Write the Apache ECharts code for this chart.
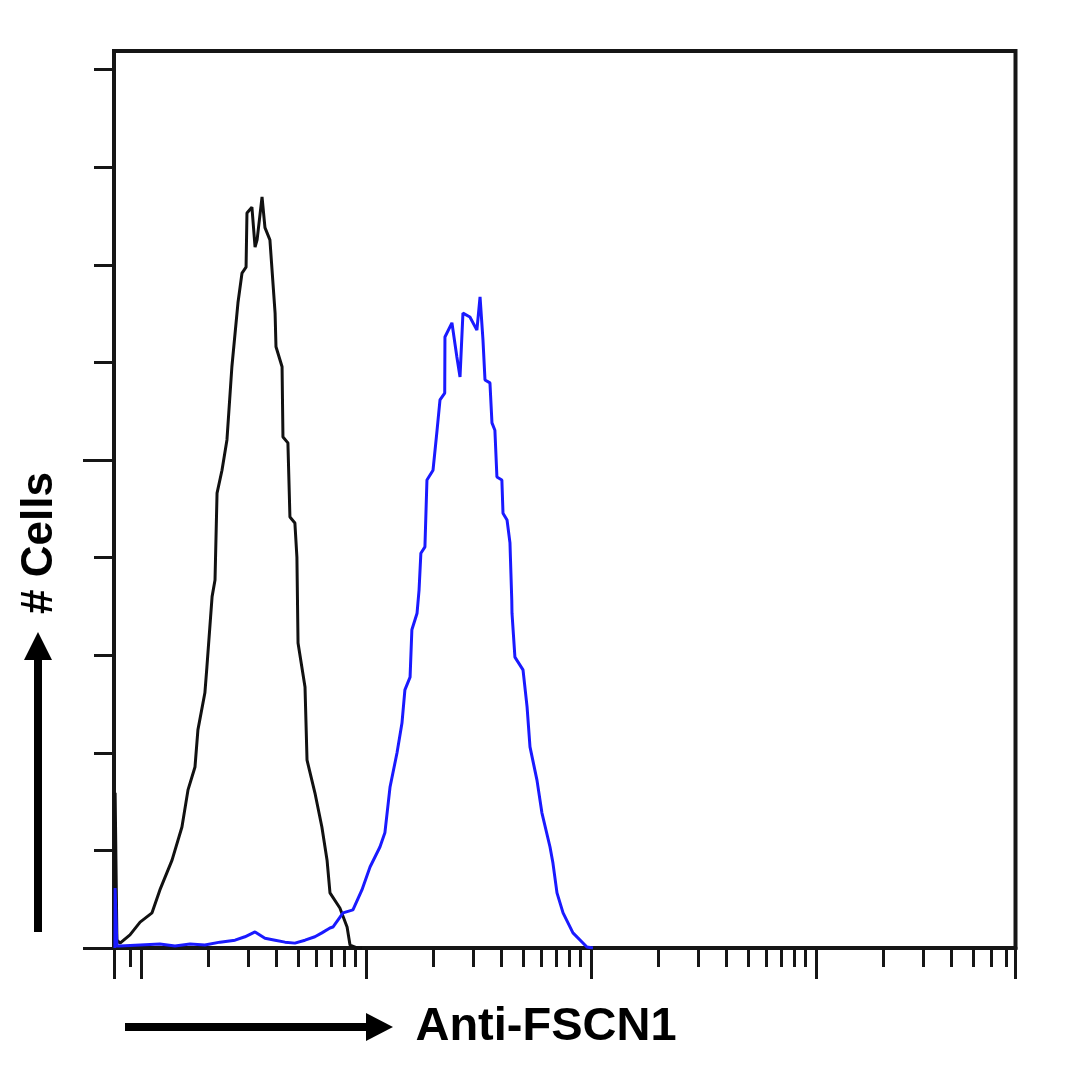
<!DOCTYPE html>
<html><head><meta charset="utf-8">
<script src="https://cdn.jsdelivr.net/npm/echarts@6/dist/echarts.min.js"></script>
<style>html,body{margin:0;padding:0;background:#fff}#c{width:1080px;height:1073px}</style>
</head><body><div id="c"></div>
<script>
// x values: log10 fluorescence intensity (Anti-FSCN1); y values: # cells
const isotypeControl = [[0.884,0],[0.885,31.8],[0.893,1.6],[0.907,1.0],[0.951,2.7],[0.996,5.3],[1.049,7.2],[1.084,11.9],[1.138,18.0],[1.182,24.8],[1.209,32.4],[1.240,37.1],[1.253,44.7],[1.284,52.3],[1.293,57.6],[1.316,72.0],[1.329,75.4],[1.338,93.2],[1.360,97.9],[1.382,104.1],[1.404,119.1],[1.431,132.2],[1.449,138.3],[1.467,139.5],[1.471,150.6],[1.493,151.8],[1.507,143.6],[1.516,145.1],[1.538,153.9],[1.551,147.6],[1.573,145.1],[1.596,130.1],[1.600,123.2],[1.627,119.1],[1.631,104.7],[1.653,103.5],[1.662,88.3],[1.684,87.1],[1.693,80.1],[1.698,62.5],[1.729,53.5],[1.738,38.5],[1.773,31.8],[1.804,24.8],[1.827,18.0],[1.840,11.3],[1.884,8.2],[1.916,4.3],[1.929,0.6],[1.960,0],[1.982,0]];
const antiFSCN1 = [[0.884,0],[0.885,12.3],[0.893,0.4],[0.907,0.4],[0.996,0.6],[1.084,0.8],[1.151,0.4],[1.218,0.8],[1.284,0.6],[1.351,1.2],[1.418,1.6],[1.462,2.3],[1.507,3.3],[1.551,2.0],[1.596,1.6],[1.640,1.2],[1.684,1.0],[1.729,1.6],[1.773,2.3],[1.804,3.1],[1.840,4.1],[1.853,4.3],[1.898,7.2],[1.942,7.8],[1.982,11.9],[2.018,16.6],[2.062,20.7],[2.084,23.6],[2.107,33.0],[2.138,40.0],[2.160,46.1],[2.173,52.9],[2.196,55.5],[2.204,65.2],[2.227,68.6],[2.236,73.4],[2.244,80.9],[2.262,82.2],[2.271,95.9],[2.298,97.9],[2.316,106.1],[2.329,112.3],[2.350,113.7],[2.351,125.2],[2.382,128.1],[2.404,121.1],[2.418,117.0],[2.431,130.1],[2.462,129.3],[2.493,126.6],[2.507,133.4],[2.520,124.6],[2.529,116.4],[2.551,115.8],[2.560,107.6],[2.573,106.1],[2.582,96.5],[2.604,95.9],[2.609,89.1],[2.627,87.7],[2.640,83.0],[2.648,71.3],[2.649,68.6],[2.662,59.6],[2.698,57.0],[2.716,49.4],[2.729,41.2],[2.760,34.4],[2.782,27.7],[2.818,20.7],[2.831,17.4],[2.849,11.3],[2.876,7.2],[2.920,3.1],[2.982,0.2],[3.009,0]];

// axis extents (log10 units for x, counts for y)
const xRange = [0.88, 4.887];
const yRange = [0, 183.8];
// x ticks: decades and in-decade multipliers (log axis)
const xDecades = [1, 2, 3, 4];
const xMultipliers = [2, 3, 4, 5, 6, 7, 8, 9];
const xExtraMinor = [0.9];
// y ticks
const yMajorTicks = [0, 100];
const yMinorTicks = [20, 40, 60, 80, 120, 140, 160, 180];

const xMajor = [xRange[0]].concat(xDecades, [xRange[1]]);
const xMinor = xExtraMinor.map(v => Math.log10(v) + 1);
xDecades.forEach(d => xMultipliers.forEach(m => {
  const v = d + Math.log10(m);
  if (v < xRange[1]) xMinor.push(v);
}));

const INK = '#161616';
const chart = echarts.init(document.getElementById('c'), null, {renderer: 'canvas'});
const baseX = {
  type: 'value', position: 'bottom', min: xRange[0], max: xRange[1],
  axisLabel: {show: false}, splitLine: {show: false}
};
const baseY = {
  type: 'value', position: 'left', min: yRange[0], max: yRange[1],
  axisLabel: {show: false}, splitLine: {show: false}
};
chart.setOption({
  animation: false,
  backgroundColor: '#ffffff',
  grid: {left: 114, right: 64.5, top: 51, bottom: 125, show: true,
         borderColor: INK, borderWidth: 4, backgroundColor: 'transparent'},
  xAxis: [
    Object.assign({}, baseX, {
      axisLine: {show: true, onZero: false, lineStyle: {color: INK, width: 4}},
      axisTick: {show: true, customValues: xMajor, length: 31, lineStyle: {color: INK, width: 3}}
    }),
    Object.assign({}, baseX, {
      axisLine: {show: false},
      axisTick: {show: true, customValues: xMinor, length: 19, lineStyle: {color: INK, width: 3}}
    })
  ],
  yAxis: [
    Object.assign({}, baseY, {
      axisLine: {show: true, onZero: false, lineStyle: {color: INK, width: 4}},
      axisTick: {show: true, customValues: yMajorTicks, length: 31, lineStyle: {color: INK, width: 3}}
    }),
    Object.assign({}, baseY, {
      axisLine: {show: false},
      axisTick: {show: true, customValues: yMinorTicks, length: 20, lineStyle: {color: INK, width: 3}}
    })
  ],
  series: [
    {type: 'line', name: 'Isotype control', xAxisIndex: 0, yAxisIndex: 0, data: isotypeControl,
     showSymbol: false, lineStyle: {color: '#111111', width: 3}, z: 3},
    {type: 'line', name: 'Anti-FSCN1', xAxisIndex: 0, yAxisIndex: 0, data: antiFSCN1,
     showSymbol: false, lineStyle: {color: '#1a1aff', width: 3}, z: 4}
  ],
  graphic: [
    {type: 'line', shape: {x1: 125, y1: 1027, x2: 372, y2: 1027}, style: {stroke: '#000', lineWidth: 8}},
    {type: 'polygon', shape: {points: [[366, 1013], [393, 1027], [366, 1041]]}, style: {fill: '#000'}},
    {type: 'text', x: 546, y: 1027, style: {text: 'Anti-FSCN1', font: 'bold 47px "Liberation Sans", Arial, sans-serif',
      fill: '#000', align: 'center', verticalAlign: 'middle'}},
    {type: 'line', shape: {x1: 38, y1: 932, x2: 38, y2: 652}, style: {stroke: '#000', lineWidth: 8}},
    {type: 'polygon', shape: {points: [[24, 660], [38, 632], [52, 660]]}, style: {fill: '#000'}},
    {type: 'text', x: 40, y: 543, rotation: Math.PI / 2, style: {text: '# Cells', font: 'bold 44px "Liberation Sans", Arial, sans-serif',
      fill: '#000', align: 'center', verticalAlign: 'middle'}}
  ]
});
</script></body></html>
